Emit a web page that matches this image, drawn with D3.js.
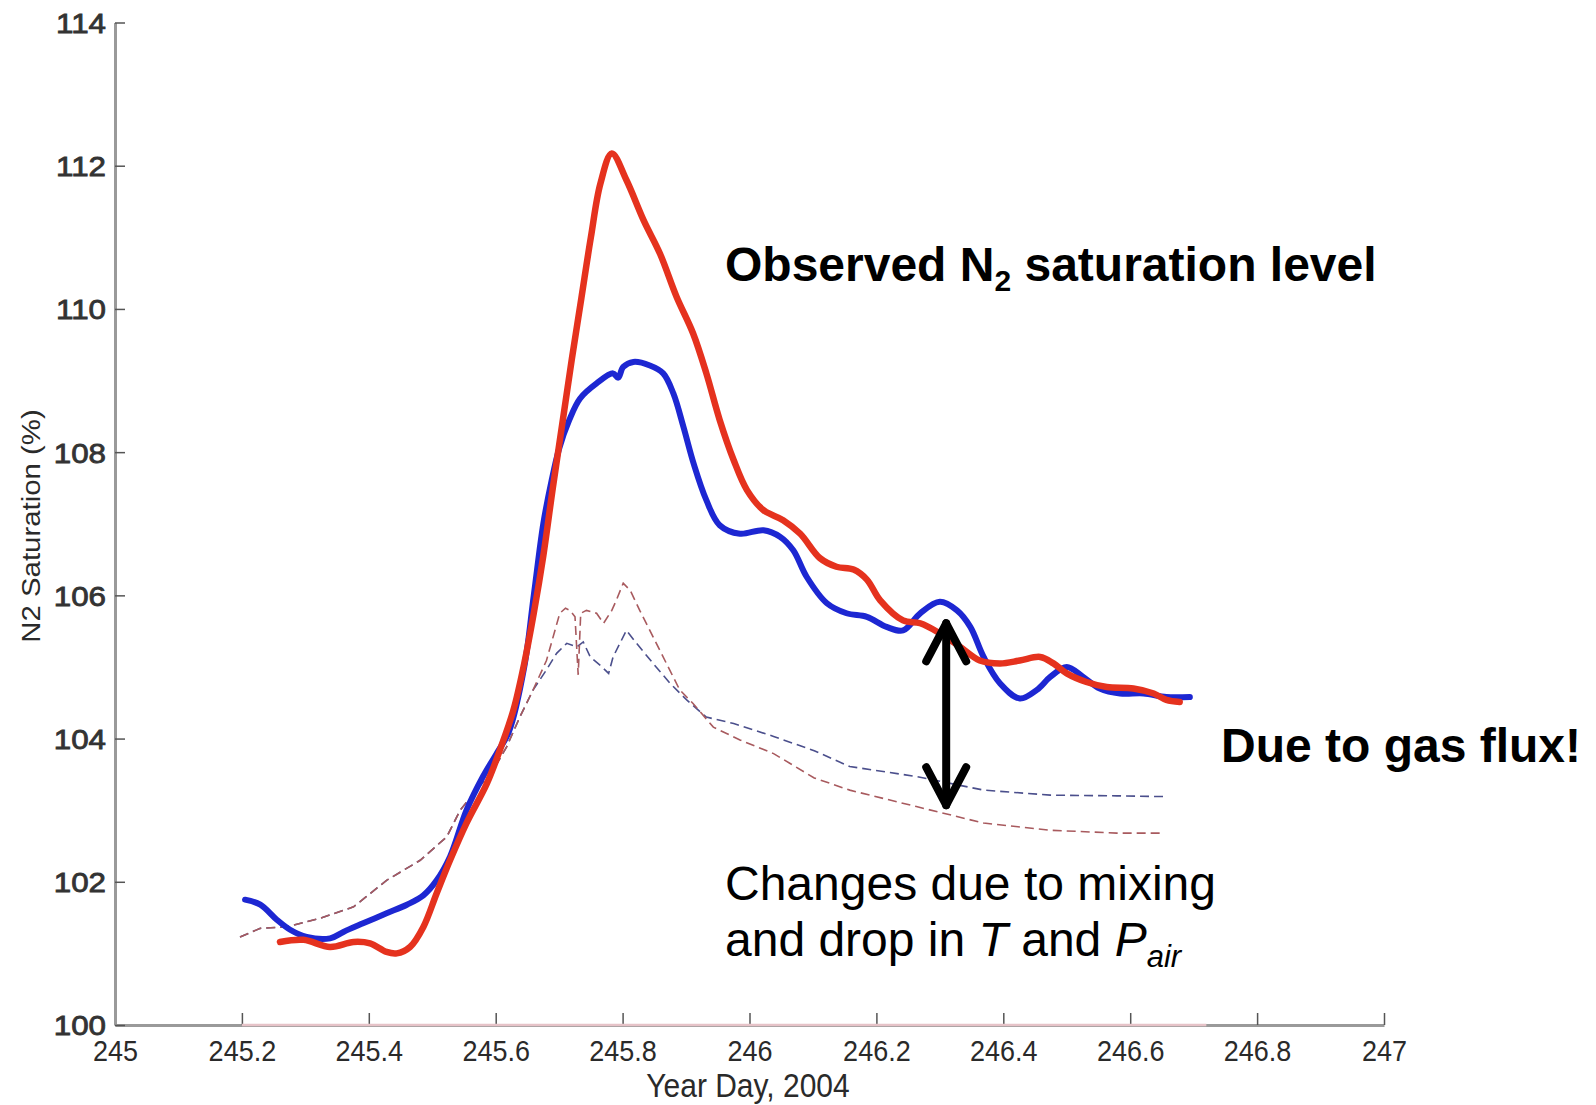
<!DOCTYPE html>
<html>
<head>
<meta charset="utf-8">
<script src="https://cdn.jsdelivr.net/npm/d3@7"></script>
<style>
  html, body { margin: 0; padding: 0; background: #fff; }
  svg { display: block; }
  text { font-family: Arial, "Liberation Sans", sans-serif; }
</style>
</head>
<body>
<svg id="chart" width="1596" height="1105"></svg>
<script>
// Axis ticks
const xTicks = [245, 245.2, 245.4, 245.6, 245.8, 246, 246.2, 246.4, 246.6, 246.8, 247];
const yTicks = [100, 102, 104, 106, 108, 110, 112, 114];

// Observed N2 saturation (thick red)
const redDay = [245.260, 245.297, 245.339, 245.376, 245.402, 245.428, 245.444, 245.465, 245.486, 245.507,
  245.528, 245.554, 245.586, 245.607, 245.628, 245.645, 245.660, 245.675, 245.690, 245.705,
  245.720, 245.735, 245.750, 245.765, 245.783, 245.806, 245.833, 245.859, 245.885, 245.911,
  245.932, 245.953, 245.975, 245.996, 246.022, 246.053, 246.080, 246.111, 246.137, 246.164,
  246.185, 246.206, 246.242, 246.269, 246.300, 246.332, 246.363, 246.395, 246.426, 246.458,
  246.479, 246.500, 246.531, 246.563, 246.605, 246.637, 246.657, 246.678];
const redSat = [101.16, 101.19, 101.09, 101.16, 101.14, 101.02, 101.00, 101.09, 101.37, 101.84,
  102.30, 102.82, 103.37, 103.85, 104.40, 105.05, 105.75, 106.55, 107.50, 108.40,
  109.30, 110.15, 111.00, 111.75, 112.17, 111.80, 111.24, 110.77, 110.17, 109.66,
  109.10, 108.45, 107.89, 107.47, 107.19, 107.05, 106.86, 106.52, 106.40, 106.36,
  106.22, 105.93, 105.65, 105.61, 105.47, 105.28, 105.09, 105.05, 105.09, 105.14,
  105.05, 104.91, 104.79, 104.72, 104.70, 104.63, 104.54, 104.51];

// Thick blue series
const blueDay = [245.205, 245.229, 245.255, 245.276, 245.302, 245.339, 245.360, 245.391, 245.428, 245.460,
  245.486, 245.507, 245.528, 245.554, 245.580, 245.602, 245.621, 245.645, 245.660, 245.675,
  245.688, 245.700, 245.716, 245.733, 245.759, 245.785, 245.793, 245.801, 245.817, 245.843,
  245.864, 245.880, 245.896, 245.912, 245.932, 245.953, 245.985, 246.022, 246.048, 246.069,
  246.090, 246.122, 246.153, 246.185, 246.216, 246.242, 246.269, 246.300, 246.327, 246.348,
  246.369, 246.395, 246.426, 246.453, 246.474, 246.500, 246.526, 246.552, 246.584, 246.621,
  246.657, 246.694];
const blueSat = [101.75, 101.68, 101.47, 101.33, 101.23, 101.21, 101.30, 101.42, 101.56, 101.68,
  101.81, 102.02, 102.35, 103.00, 103.47, 103.80, 104.10, 105.00, 106.00, 107.00,
  107.60, 108.05, 108.45, 108.75, 108.96, 109.10, 109.04, 109.19, 109.26, 109.21,
  109.10, 108.82, 108.35, 107.84, 107.33, 106.98, 106.86, 106.91, 106.82, 106.63,
  106.26, 105.89, 105.75, 105.70, 105.56, 105.51, 105.75, 105.91, 105.79, 105.56,
  105.14, 104.77, 104.56, 104.68, 104.86, 105.00, 104.86, 104.70, 104.63, 104.63,
  104.58, 104.58];

// Dashed red: mixing and T / P_air effects only
const mixRedDay = [245.197, 245.229, 245.271, 245.323, 245.376, 245.428, 245.481, 245.523, 245.544, 245.565,
  245.596, 245.617, 245.638, 245.659, 245.680, 245.701, 245.710, 245.717, 245.725, 245.730,
  245.734, 245.743, 245.759, 245.770, 245.783, 245.790, 245.801, 245.812, 245.827, 245.848,
  245.869, 245.890, 245.911, 245.943, 245.985, 246.038, 246.102, 246.158, 246.263, 246.369,
  246.474, 246.579, 246.652];
const mixRedSat = [101.23, 101.35, 101.37, 101.49, 101.65, 102.02, 102.30, 102.63, 103.00, 103.23,
  103.56, 103.88, 104.30, 104.68, 105.09, 105.75, 105.82, 105.79, 105.70, 104.89,
  105.75, 105.79, 105.75, 105.61, 105.79, 105.93, 106.17, 106.07, 105.79, 105.42,
  105.05, 104.68, 104.49, 104.16, 103.98, 103.79, 103.45, 103.28, 103.05, 102.82,
  102.72, 102.68, 102.68];

// Dashed blue: mixing and T / P_air effects only
const mixBlueDay = [245.197, 245.229, 245.271, 245.323, 245.376, 245.428, 245.481, 245.523, 245.544, 245.565,
  245.596, 245.617, 245.638, 245.659, 245.680, 245.696, 245.712, 245.728, 245.738, 245.749,
  245.765, 245.778, 245.785, 245.806, 245.822, 245.848, 245.875, 245.901, 245.932, 245.975,
  246.038, 246.102, 246.158, 246.263, 246.369, 246.474, 246.579, 246.652];
const mixBlueSat = [101.23, 101.35, 101.37, 101.49, 101.65, 102.02, 102.30, 102.63, 103.00, 103.23,
  103.56, 103.88, 104.30, 104.68, 104.96, 105.19, 105.33, 105.28, 105.35, 105.14,
  105.02, 104.91, 105.14, 105.51, 105.33, 105.05, 104.77, 104.54, 104.30, 104.21,
  104.03, 103.83, 103.61, 103.47, 103.28, 103.21, 103.20, 103.19];

// 100 % saturation reference
const refDay = [245.2, 246.72];
const refSat = [100, 100];

// Gas-flux arrow (day, top and bottom saturation)
const arrowDay = 246.31;
const arrowSat = [105.61, 103.07];

const svg = d3.select("#chart");
const x = d3.scaleLinear().domain([245, 247]).range([115, 1384]);
const y = d3.scaleLinear().domain([100, 114]).range([1025, 22.5]);

const zip = (a, b) => a.map((d, i) => [d, b[i]]);

// Axes
const xAxis = svg.append("g").attr("transform", "translate(0,1025)")
  .call(d3.axisBottom(x).tickValues(xTicks).tickFormat(d3.format("")).tickSizeInner(-12).tickSizeOuter(0));
const yAxis = svg.append("g").attr("transform", "translate(115,0)")
  .call(d3.axisLeft(y).tickValues(yTicks).tickFormat(d3.format("")).tickSizeInner(-10).tickSizeOuter(0));

[xAxis, yAxis].forEach(g => {
  g.select(".domain").attr("stroke", "#9a9a9a").attr("stroke-width", 3);
  g.selectAll(".tick line").attr("stroke", "#555").attr("stroke-width", 1.5);
  g.selectAll(".tick text").attr("fill", "#2a2a2a").attr("font-size", 27)
    .attr("font-family", "Arial, 'Liberation Sans', sans-serif");
});
xAxis.selectAll(".tick text").attr("y", 0).attr("dy", null)
  .attr("transform", "translate(0,36) scale(1,1.12)");
yAxis.selectAll(".tick text").attr("x", 0).attr("dy", "0.36em")
  .attr("fill", "#333").attr("stroke", "#333").attr("stroke-width", 0.8)
  .attr("transform", "translate(-9,0) scale(1.16,1.02)");

// Axis titles
svg.append("text").attr("x", 0).attr("y", 0)
  .attr("transform", "translate(748,1097) scale(1,1.12)")
  .attr("text-anchor", "middle").attr("font-size", 30).attr("fill", "#2a2a2a")
  .text("Year Day, 2004");
svg.append("text").attr("x", 0).attr("y", 0)
  .attr("transform", "translate(40,526) rotate(-90) scale(1.13,1)")
  .attr("text-anchor", "middle").attr("font-size", 26).attr("fill", "#2a2a2a")
  .text("N2 Saturation (%)");

// Lines
const lineLinear = d3.line().x(d => x(d[0])).y(d => y(d[1]));
const lineSmooth = d3.line().x(d => x(d[0])).y(d => y(d[1])).curve(d3.curveCatmullRom.alpha(0.5));

svg.append("path").datum(zip(refDay, refSat)).attr("d", lineLinear)
  .attr("fill", "none").attr("stroke", "#e6c3c8").attr("stroke-width", 2.5);

svg.append("path").datum(zip(mixBlueDay, mixBlueSat)).attr("d", lineLinear)
  .attr("fill", "none").attr("stroke", "#4b4f8c").attr("stroke-width", 1.6)
  .attr("stroke-dasharray", "9,5");
svg.append("path").datum(zip(mixRedDay, mixRedSat)).attr("d", lineLinear)
  .attr("fill", "none").attr("stroke", "#a85a5e").attr("stroke-width", 1.6)
  .attr("stroke-dasharray", "9,5");

svg.append("path").datum(zip(blueDay, blueSat)).attr("d", lineSmooth)
  .attr("fill", "none").attr("stroke", "#1d27d2").attr("stroke-width", 6)
  .attr("stroke-linejoin", "round").attr("stroke-linecap", "round");
svg.append("path").datum(zip(redDay, redSat)).attr("d", lineSmooth)
  .attr("fill", "none").attr("stroke", "#e5321e").attr("stroke-width", 6.5)
  .attr("stroke-linejoin", "round").attr("stroke-linecap", "round");

// Double-headed arrow
const ax = x(arrowDay), aTop = y(arrowSat[0]), aBot = y(arrowSat[1]);
const arrow = svg.append("g").attr("fill", "none").attr("stroke", "#000")
  .attr("stroke-width", 8).attr("stroke-linecap", "round").attr("stroke-linejoin", "round");
arrow.append("line").attr("x1", ax).attr("x2", ax).attr("y1", aTop).attr("y2", aBot);
arrow.append("polyline").attr("points", [[ax - 20, aTop + 38], [ax, aTop], [ax + 20, aTop + 38]].join(" "));
arrow.append("polyline").attr("points", [[ax - 20, aBot - 38], [ax, aBot], [ax + 20, aBot - 38]].join(" "));

// Annotations
const t1 = svg.append("text").attr("x", 725).attr("y", 281)
  .attr("font-size", 48).attr("font-weight", "bold").attr("fill", "#000");
t1.append("tspan").text("Observed N");
t1.append("tspan").attr("font-size", 30).attr("dy", 10).text("2");
t1.append("tspan").attr("dy", -10).text(" saturation level");

svg.append("text").attr("x", 1221).attr("y", 762)
  .attr("font-size", 48).attr("font-weight", "bold").attr("fill", "#000")
  .text("Due to gas flux!");

svg.append("text").attr("x", 725).attr("y", 900)
  .attr("font-size", 48).attr("fill", "#000")
  .text("Changes due to mixing");
const t4 = svg.append("text").attr("x", 725).attr("y", 956)
  .attr("font-size", 48).attr("fill", "#000");
t4.append("tspan").text("and drop in ");
t4.append("tspan").attr("font-style", "italic").text("T");
t4.append("tspan").text(" and ");
t4.append("tspan").attr("font-style", "italic").text("P");
t4.append("tspan").attr("font-style", "italic").attr("font-size", 31).attr("dy", 11).text("air");
</script>
</body>
</html>
